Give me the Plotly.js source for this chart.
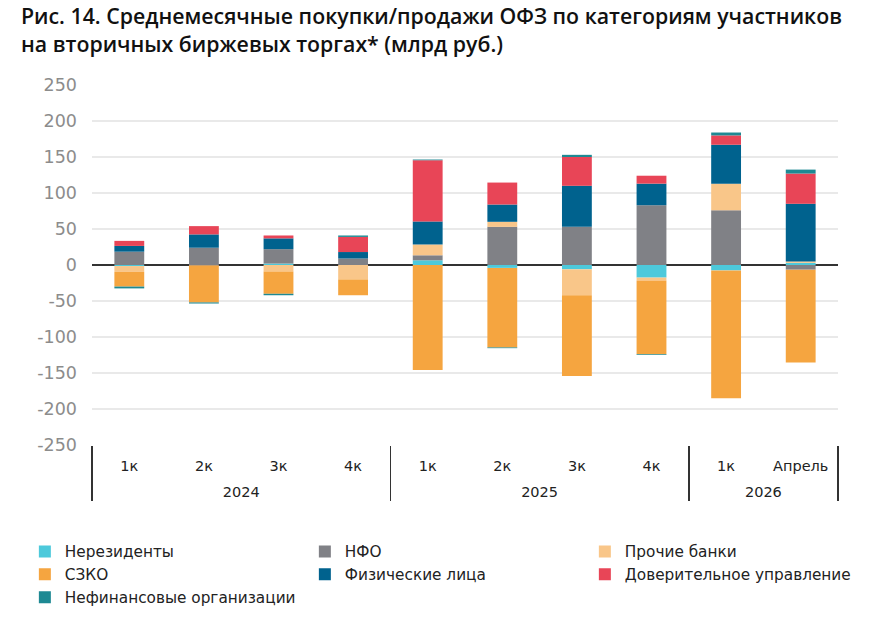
<!DOCTYPE html>
<html>
<head>
<meta charset="utf-8">
<script src="https://cdn.plot.ly/plotly-3.0.1.min.js"></script>
<style>
  html, body { margin: 0; padding: 0; background: #fff; }
  #chart { width: 887px; height: 620px; }
</style>
</head>
<body>
<div id="chart"></div>
<script>
// periods: year (outer) and quarter/month (inner)
var years = ["2024", "2024", "2024", "2024", "2025", "2025", "2025", "2025", "2026", "2026"];
var periods = ["1к", "2к", "3к", "4к", "1к", "2к", "3к", "4к", "1к", "Апрель"];

// average monthly net purchases, bn rub
var nonResidents = [-1.5, 0, 2, 0, 6.5, -4, -6, -17.5, -7.5, 3];
var nfo = [18.5, 24, 20, 9, 7, 53, 53, 83, 76, -6.5];
var otherBanks = [-8, -1, -9, -20, 15, 7, -36, -4.5, 37, 2];
var szko = [-20.5, -51, -31, -22, -146, -110.5, -112, -102, -177.5, -129];
var individuals = [8, 18.5, 15, 9, 32, 24, 57, 30, 54, 80];
var trustMgmt = [7, 11.5, 4, 21, 85, 30.5, 40, 11, 13, 42];
var nonFinancial = [-2.5, -1.5, -2, 2, 1, -1, 3, -1, 4, 5.5];

var yTicks = [-250, -200, -150, -100, -50, 0, 50, 100, 150, 200, 250];
var yTickText = yTicks.map(String);

// the blank first line pushes the year row further below the quarter row
var yearLabels = years.map(function (y) { return "<br>" + y; });

var series = [
  {name: "Нерезиденты", y: nonResidents, color: "#4dc9db"},
  {name: "НФО", y: nfo, color: "#808186"},
  {name: "Прочие банки", y: otherBanks, color: "#f9c689"},
  {name: "СЗКО", y: szko, color: "#f5a540"},
  {name: "Физические лица", y: individuals, color: "#00628e"},
  {name: "Доверительное управление", y: trustMgmt, color: "#e84557"},
  {name: "Нефинансовые организации", y: nonFinancial, color: "#1e8993"}
];

var traces = series.map(function (s) {
  return {
    type: "bar",
    name: s.name,
    x: [yearLabels, periods],
    y: s.y,
    marker: {color: s.color, line: {width: 0}},
    hoverinfo: "name+y"
  };
});

var layout = {
  width: 887,
  height: 620,
  margin: {l: 92, r: 49, t: 85, b: 175, autoexpand: false},
  paper_bgcolor: "#fff",
  plot_bgcolor: "#fff",
  font: {family: "DejaVu Sans, sans-serif", color: "#222"},
  annotations: [{
    text: "Рис. 14. Среднемесячные покупки/продажи ОФЗ по категориям участников<br>на вторичных биржевых торгах* (млрд руб.)",
    font: {family: "Open Sans, sans-serif", size: 21.3, color: "#111", weight: 600},
    xref: "paper", yref: "paper",
    x: -0.098, xanchor: "left",
    y: 1.24, yanchor: "top",
    align: "left",
    showarrow: false
  }],
  barmode: "relative",
  bargap: 0.6,
  xaxis: {
    type: "multicategory",
    showgrid: false,
    zeroline: false,
    showline: false,
    ticks: "",
    ticklabelstandoff: 10,
    tickfont: {size: 14.5, color: "#222"},
    showdividers: true,
    dividercolor: "#333",
    dividerwidth: 1.5
  },
  yaxis: {
    range: [-250, 250],
    tickvals: yTicks,
    ticktext: yTickText,
    ticks: "",
    ticklabelstandoff: 14,
    tickfont: {size: 17.5, color: "#8c8c8c"},
    gridcolor: "#e9e9e9",
    gridwidth: 1.5,
    zeroline: true,
    zerolinecolor: "#333",
    zerolinewidth: 1.5,
    showline: false,
    fixedrange: true
  },
  showlegend: true,
  legend: {
    orientation: "h",
    x: -0.09, xanchor: "left",
    y: -0.25, yanchor: "top",
    entrywidth: 235,
    entrywidthmode: "pixels",
    traceorder: "normal",
    itemwidth: 30,
    font: {family: "DejaVu Sans, sans-serif", size: 15.3, color: "#222"}
  }
};

Plotly.newPlot("chart", traces, layout, {displayModeBar: false, staticPlot: true});
</script>
</body>
</html>
